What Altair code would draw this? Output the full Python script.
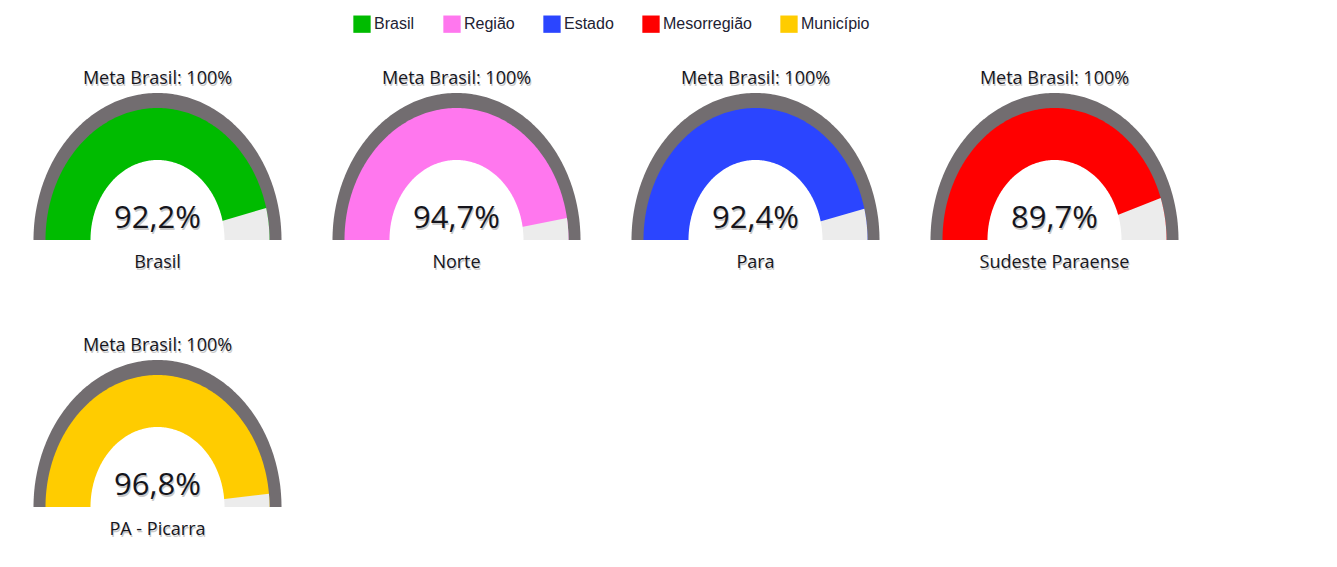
import altair as alt
import pandas as pd

# ---- data ----
names = ["Brasil", "Norte", "Para", "Sudeste Paraense", "PA - Picarra"]
levels = ["Brasil", "Região", "Estado", "Mesorregião", "Município"]
values = [92.2, 94.7, 92.4, 89.7, 96.8]
goals = [100, 100, 100, 100, 100]
colors = ["#00BB00", "#FF77EE", "#2B45FF", "#FF0000", "#FFCC00"]

df = pd.DataFrame({"name": names, "level": levels, "value": values, "goal": goals})

# ---- gauge geometry (elliptical, as in the reference) ----
RX_OUT, RY_OUT = 124, 147
RX_MID, RY_MID = 112, 132
RX_IN, RY_IN = 67, 80
N = 180

FONT = "Open Sans, sans-serif"
TXT = "#15151c"

xs = alt.Scale(domain=[-149.5, 149.5], nice=False, zero=False)
ys = alt.Scale(domain=[-35, 232], nice=False, zero=False)

color_scale = alt.Scale(domain=levels, range=colors)


def semi(rx, ry, color=None, color_enc=None):
    ch = (
        alt.Chart()
        .transform_calculate(seq=f"sequence(0, {N + 1})")
        .transform_flatten(["seq"])
        .transform_calculate(
            px=f"{rx}*cos(PI*datum.seq/{N})",
            py=f"{ry}*sin(PI*datum.seq/{N})",
        )
    )
    ch = ch.mark_area(color=color) if color is not None else ch.mark_area()
    enc = dict(
        x=alt.X("px:Q", scale=xs, axis=None),
        y=alt.Y("py:Q", scale=ys, axis=None, stack=None),
        y2=alt.datum(0),
    )
    if color_enc is not None:
        enc["color"] = color_enc
    return ch.encode(**enc)


def label(expr, y, size):
    base = alt.Chart().transform_calculate(lbl=expr)
    shadow = base.mark_text(
        font=FONT, fontSize=size, color="#888888", opacity=0.45,
        baseline="alphabetic", dx=1, dy=1.5,
    ).encode(x=alt.datum(0), y=alt.datum(y), text="lbl:N")
    main = base.mark_text(
        font=FONT, fontSize=size, color=TXT, baseline="alphabetic",
    ).encode(x=alt.datum(0), y=alt.datum(y), text="lbl:N")
    return [shadow, main]


def gauge(name, with_legend=False):
    if with_legend:
        legend = alt.Legend(
            orient="none",
            legendX=345,
            legendY=7,
            direction="horizontal",
            title=None,
            symbolType="square",
            symbolSize=300,
            symbolStrokeWidth=0,
            symbolOpacity=1,
            labelFont="Liberation Sans",
            labelFontSize=16,
            labelColor="#222233",
            columnPadding=28,
            labelOffset=3,
            values=levels,
        )
    else:
        legend = None
    color_enc = alt.Color("level:N", scale=color_scale, legend=legend)

    outer = semi(RX_OUT, RY_OUT, color="#726D70")
    filled = semi(RX_MID, RY_MID, color_enc=color_enc)
    wedge = (
        alt.Chart()
        .transform_calculate(seq="sequence(-1, 61)")
        .transform_flatten(["seq"])
        .transform_calculate(alpha="PI*(1 - datum.value/datum.goal)")
        .transform_calculate(theta="datum.seq < 0 ? 0 : datum.alpha*datum.seq/60")
        .transform_calculate(
            px=f"datum.seq < 0 ? 0 : {RX_MID}*cos(datum.theta)",
            py=f"datum.seq < 0 ? 0 : {RY_MID}*sin(datum.theta)",
        )
        .mark_area(color="#ECECEC")
        .encode(
            x=alt.X("px:Q", scale=xs, axis=None),
            y=alt.Y("py:Q", scale=ys, axis=None, stack=None),
            y2=alt.datum(0),
        )
    )
    hole = semi(RX_IN, RY_IN, color="#FFFFFF")

    meta = label("'Meta Brasil: ' + datum.goal + '%'", 156, 18)
    val = label("replace(format(datum.value, '.1f'), '.', ',') + '%'", 12, 31)
    nm = label("datum.name", -28, 18)

    return (
        alt.layer(outer, filled, wedge, hole, *meta, *val, *nm, data=df)
        .transform_filter(alt.datum.name == name)
        .properties(width=299, height=267)
    )


row1 = alt.hconcat(*[gauge(n, with_legend=(i == 0)) for i, n in enumerate(names[:4])], spacing=0)
row2 = alt.hconcat(gauge(names[4]), spacing=0)

chart = (
    alt.vconcat(row1, row2, spacing=0)
    .resolve_scale(color="shared")
    .properties(padding=0)
    .configure_view(stroke=None)
)

chart.save("out.html", embed_options={"renderer": "svg", "actions": False})
